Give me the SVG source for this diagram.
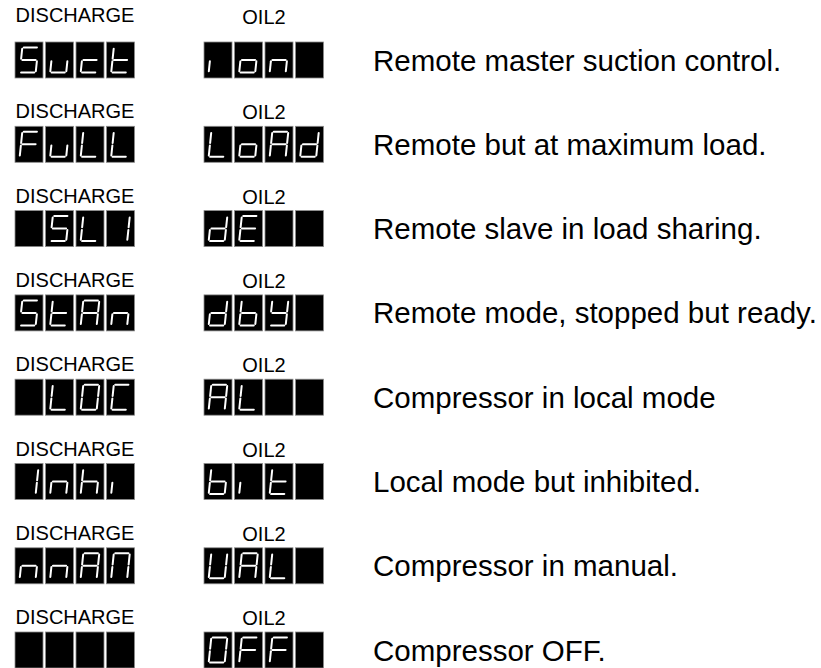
<svg xmlns="http://www.w3.org/2000/svg" xmlns:xlink="http://www.w3.org/1999/xlink" width="821" height="668" viewBox="0 0 821 668">
<style>
.lbl{font-family:"Liberation Sans",Arial,sans-serif;font-size:20px;fill:#000;text-anchor:middle}
.desc{font-family:"Liberation Sans",Arial,sans-serif;font-size:29.5px;fill:#000}
.bx{fill:#000;stroke:#8a8a8a;stroke-width:0.8}
.s{fill:none;stroke:#fff;stroke-width:2;stroke-linecap:round}
</style>
<defs>
<rect id="bx" class="bx" x="-14" y="-18" width="28" height="36"/>
<path id="sa" class="s" d="M-6.6,-12.5H6.6"/>
<path id="sb" class="s" d="M8,-11.2V-1.3"/>
<path id="sc" class="s" d="M8,1.3V11.2"/>
<path id="sd" class="s" d="M-6.6,12.5H6.6"/>
<path id="se" class="s" d="M-8,1.3V11.2"/>
<path id="sf" class="s" d="M-8,-11.2V-1.3"/>
<path id="sg" class="s" d="M-6.6,0H6.6"/>
<g id="g_"><use href="#bx"/></g>
<g id="gS"><use href="#bx"/><g transform="skewX(-6)"><use href="#sa"/><use href="#sf"/><use href="#sg"/><use href="#sc"/><use href="#sd"/></g></g>
<g id="gu"><use href="#bx"/><g transform="skewX(-6)"><use href="#se"/><use href="#sd"/><use href="#sc"/></g></g>
<g id="gc"><use href="#bx"/><g transform="skewX(-6)"><use href="#sg"/><use href="#se"/><use href="#sd"/></g></g>
<g id="gt"><use href="#bx"/><g transform="skewX(-6)"><use href="#sf"/><use href="#sg"/><use href="#se"/><use href="#sd"/></g></g>
<g id="gi"><use href="#bx"/><g transform="skewX(-6)"><use href="#se"/></g></g>
<g id="go"><use href="#bx"/><g transform="skewX(-6)"><use href="#sg"/><use href="#sc"/><use href="#sd"/><use href="#se"/></g></g>
<g id="gn"><use href="#bx"/><g transform="skewX(-6)"><use href="#se"/><use href="#sg"/><use href="#sc"/></g></g>
<g id="gF"><use href="#bx"/><g transform="skewX(-6)"><use href="#sa"/><use href="#sf"/><use href="#sg"/><use href="#se"/></g></g>
<g id="gL"><use href="#bx"/><g transform="skewX(-6)"><use href="#sf"/><use href="#se"/><use href="#sd"/></g></g>
<g id="gA"><use href="#bx"/><g transform="skewX(-6)"><use href="#sa"/><use href="#sb"/><use href="#sc"/><use href="#se"/><use href="#sf"/><use href="#sg"/></g></g>
<g id="gd"><use href="#bx"/><g transform="skewX(-6)"><use href="#sb"/><use href="#sc"/><use href="#sd"/><use href="#se"/><use href="#sg"/></g></g>
<g id="gE"><use href="#bx"/><g transform="skewX(-6)"><use href="#sa"/><use href="#sd"/><use href="#se"/><use href="#sf"/><use href="#sg"/></g></g>
<g id="g1"><use href="#bx"/><g transform="skewX(-6)"><use href="#sb"/><use href="#sc"/></g></g>
<g id="gb"><use href="#bx"/><g transform="skewX(-6)"><use href="#sf"/><use href="#se"/><use href="#sd"/><use href="#sc"/><use href="#sg"/></g></g>
<g id="gY"><use href="#bx"/><g transform="skewX(-6)"><use href="#sf"/><use href="#sb"/><use href="#sg"/><use href="#sc"/><use href="#sd"/></g></g>
<g id="gO"><use href="#bx"/><g transform="skewX(-6)"><use href="#sa"/><use href="#sb"/><use href="#sc"/><use href="#sd"/><use href="#se"/><use href="#sf"/></g></g>
<g id="gC"><use href="#bx"/><g transform="skewX(-6)"><use href="#sa"/><use href="#sd"/><use href="#se"/><use href="#sf"/></g></g>
<g id="gh"><use href="#bx"/><g transform="skewX(-6)"><use href="#sf"/><use href="#se"/><use href="#sg"/><use href="#sc"/></g></g>
<g id="gN"><use href="#bx"/><g transform="skewX(-6)"><use href="#sa"/><use href="#sb"/><use href="#sc"/><use href="#se"/><use href="#sf"/></g></g>
<g id="gU"><use href="#bx"/><g transform="skewX(-6)"><use href="#sb"/><use href="#sc"/><use href="#sd"/><use href="#se"/><use href="#sf"/></g></g>
</defs>
<rect width="821" height="668" fill="#fff"/>

<g id="row1">
<text class="lbl" x="75" y="22">DISCHARGE</text><text class="lbl" x="264" y="24">OIL2</text>
<use href="#gS" x="29" y="60"/><use href="#gu" x="59.5" y="60"/><use href="#gc" x="90" y="60"/><use href="#gt" x="120.5" y="60"/>
<use href="#gi" x="218" y="60"/><use href="#go" x="248.5" y="60"/><use href="#gn" x="279" y="60"/><use href="#g_" x="309.5" y="60"/>
<text class="desc" x="373" y="70.5">Remote master suction control.</text>
</g>

<g id="row2">
<text class="lbl" x="75" y="118">DISCHARGE</text><text class="lbl" x="264" y="119">OIL2</text>
<use href="#gF" x="29" y="144.3"/><use href="#gu" x="59.5" y="144.3"/><use href="#gL" x="90" y="144.3"/><use href="#gL" x="120.5" y="144.3"/>
<use href="#gL" x="218" y="144.3"/><use href="#go" x="248.5" y="144.3"/><use href="#gA" x="279" y="144.3"/><use href="#gd" x="309.5" y="144.3"/>
<text class="desc" x="373" y="154.8">Remote but at maximum load.</text>
</g>

<g id="row3">
<text class="lbl" x="75" y="202.6">DISCHARGE</text><text class="lbl" x="264" y="203.6">OIL2</text>
<use href="#g_" x="29" y="228.6"/><use href="#gS" x="59.5" y="228.6"/><use href="#gL" x="90" y="228.6"/><use href="#g1" x="120.5" y="228.6"/>
<use href="#gd" x="218" y="228.6"/><use href="#gE" x="248.5" y="228.6"/><use href="#g_" x="279" y="228.6"/><use href="#g_" x="309.5" y="228.6"/>
<text class="desc" x="373" y="239.1">Remote slave in load sharing.</text>
</g>

<g id="row4">
<text class="lbl" x="75" y="286.9">DISCHARGE</text><text class="lbl" x="264" y="287.9">OIL2</text>
<use href="#gS" x="29" y="312.9"/><use href="#gt" x="59.5" y="312.9"/><use href="#gA" x="90" y="312.9"/><use href="#gn" x="120.5" y="312.9"/>
<use href="#gd" x="218" y="312.9"/><use href="#gb" x="248.5" y="312.9"/><use href="#gY" x="279" y="312.9"/><use href="#g_" x="309.5" y="312.9"/>
<text class="desc" x="373" y="323.4">Remote mode, stopped but ready.</text>
</g>

<g id="row5">
<text class="lbl" x="75" y="371.2">DISCHARGE</text><text class="lbl" x="264" y="372.2">OIL2</text>
<use href="#g_" x="29" y="397.2"/><use href="#gL" x="59.5" y="397.2"/><use href="#gO" x="90" y="397.2"/><use href="#gC" x="120.5" y="397.2"/>
<use href="#gA" x="218" y="397.2"/><use href="#gL" x="248.5" y="397.2"/><use href="#g_" x="279" y="397.2"/><use href="#g_" x="309.5" y="397.2"/>
<text class="desc" x="373" y="407.7">Compressor in local mode</text>
</g>

<g id="row6">
<text class="lbl" x="75" y="455.5">DISCHARGE</text><text class="lbl" x="264" y="456.5">OIL2</text>
<use href="#g1" x="29" y="481.5"/><use href="#gn" x="59.5" y="481.5"/><use href="#gh" x="90" y="481.5"/><use href="#gi" x="120.5" y="481.5"/>
<use href="#gb" x="218" y="481.5"/><use href="#gi" x="248.5" y="481.5"/><use href="#gt" x="279" y="481.5"/><use href="#g_" x="309.5" y="481.5"/>
<text class="desc" x="373" y="492">Local mode but inhibited.</text>
</g>

<g id="row7">
<text class="lbl" x="75" y="539.8">DISCHARGE</text><text class="lbl" x="264" y="540.8">OIL2</text>
<use href="#gn" x="29" y="565.8"/><use href="#gn" x="59.5" y="565.8"/><use href="#gA" x="90" y="565.8"/><use href="#gN" x="120.5" y="565.8"/>
<use href="#gU" x="218" y="565.8"/><use href="#gA" x="248.5" y="565.8"/><use href="#gL" x="279" y="565.8"/><use href="#g_" x="309.5" y="565.8"/>
<text class="desc" x="373" y="576.3">Compressor in manual.</text>
</g>

<g id="row8">
<text class="lbl" x="75" y="624">DISCHARGE</text><text class="lbl" x="264" y="625">OIL2</text>
<use href="#g_" x="29" y="650"/><use href="#g_" x="59.5" y="650"/><use href="#g_" x="90" y="650"/><use href="#g_" x="120.5" y="650"/>
<use href="#gO" x="218" y="650"/><use href="#gF" x="248.5" y="650"/><use href="#gF" x="279" y="650"/><use href="#g_" x="309.5" y="650"/>
<text class="desc" x="373" y="660.5">Compressor OFF.</text>
</g>
</svg>
